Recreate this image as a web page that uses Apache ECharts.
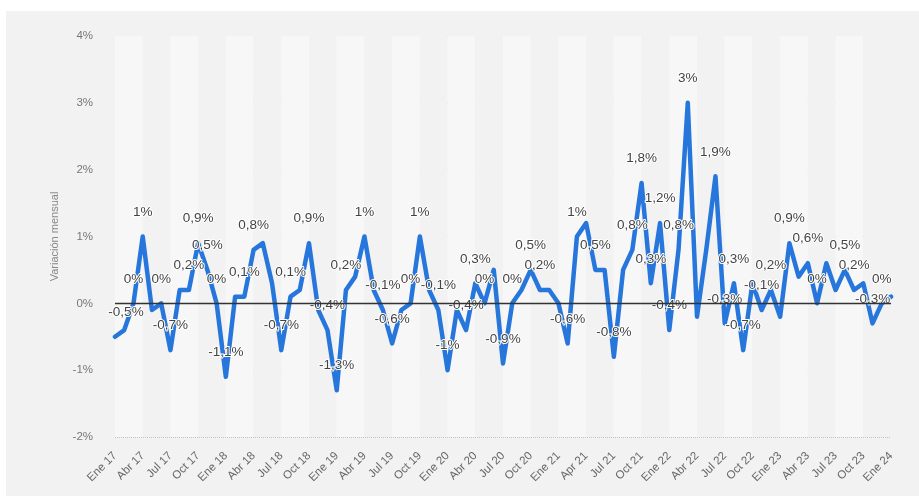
<!DOCTYPE html>
<html>
<head>
<meta charset="utf-8">
<script src="https://cdn.jsdelivr.net/npm/echarts@6/dist/echarts.min.js"></script>
<style>
  html, body { margin: 0; padding: 0; background: #ffffff; }
  #bg { position: absolute; left: 6px; top: 11px; right: 0; bottom: 0; background: #f2f2f2; }
  #chart { position: absolute; left: 0; top: 0; width: 919px; height: 496px; }
</style>
</head>
<body>
<div id="bg"></div>
<div id="chart"></div>
<script>
// Month categories (x axis)
const categories = [
  'Ene 17','Feb 17','Mar 17','Abr 17','May 17','Jun 17','Jul 17','Ago 17','Sep 17','Oct 17','Nov 17','Dic 17',
  'Ene 18','Feb 18','Mar 18','Abr 18','May 18','Jun 18','Jul 18','Ago 18','Sep 18','Oct 18','Nov 18','Dic 18',
  'Ene 19','Feb 19','Mar 19','Abr 19','May 19','Jun 19','Jul 19','Ago 19','Sep 19','Oct 19','Nov 19','Dic 19',
  'Ene 20','Feb 20','Mar 20','Abr 20','May 20','Jun 20','Jul 20','Ago 20','Sep 20','Oct 20','Nov 20','Dic 20',
  'Ene 21','Feb 21','Mar 21','Apr 21','May 21','Jun 21','Jul 21','Ago 21','Sep 21','Oct 21','Nov 21','Dic 21',
  'Ene 22','Feb 22','Mar 22','Abr 22','May 22','Jun 22','Jul 22','Ago 22','Sep 22','Oct 22','Nov 22','Dic 22',
  'Ene 23','Feb 23','Mar 23','Abr 23','May 23','Jun 23','Jul 23','Ago 23','Sep 23','Oct 23','Nov 23','Dic 23',
  'Ene 24'
];

// Monthly variation (%)
const values = [
  -0.5, -0.4, 0.0, 1.0, -0.1, 0.0, -0.7, 0.2, 0.2, 0.9, 0.5, 0.0,
  -1.1, 0.1, 0.1, 0.8, 0.9, 0.3, -0.7, 0.1, 0.2, 0.9, -0.1, -0.4,
  -1.3, 0.2, 0.4, 1.0, 0.2, -0.1, -0.6, -0.1, 0.0, 1.0, 0.2, -0.1,
  -1.0, -0.1, -0.4, 0.3, 0.0, 0.5, -0.9, 0.0, 0.2, 0.5, 0.2, 0.2,
  0.0, -0.6, 1.0, 1.2, 0.5, 0.5, -0.8, 0.5, 0.8, 1.8, 0.3, 1.2,
  -0.4, 0.8, 3.0, -0.2, 0.8, 1.9, -0.3, 0.3, -0.7, 0.3, -0.1, 0.2,
  -0.2, 0.9, 0.4, 0.6, 0.0, 0.6, 0.2, 0.5, 0.2, 0.3, -0.3, 0.0,
  0.1
];

// Months whose value is annotated in the chart
const labelledMonths = [
  'Ene 17','Mar 17','Abr 17','Jun 17','Jul 17','Sep 17','Oct 17','Nov 17','Dic 17',
  'Ene 18','Mar 18','Abr 18','Jul 18','Ago 18','Oct 18','Dic 18',
  'Ene 19','Feb 19','Abr 19','Jun 19','Jul 19','Sep 19','Oct 19','Dic 19',
  'Ene 20','Mar 20','Abr 20','May 20','Jul 20','Ago 20','Oct 20','Nov 20',
  'Feb 21','Mar 21','May 21','Jul 21','Sep 21','Oct 21','Nov 21','Dic 21',
  'Ene 22','Feb 22','Mar 22','Jun 22','Jul 22','Ago 22','Sep 22','Nov 22','Dic 22',
  'Feb 23','Abr 23','May 23','Ago 23','Sep 23','Nov 23','Dic 23'
];

// Y axis ticks
const yMin = -2, yMax = 4, yStep = 1;
const yAxisTitle = 'Variación mensual';

const FONT = "'Liberation Sans', Arial, Helvetica, sans-serif";
const BLUE = '#2676dc';

function fmt(v) {
  let s = (Math.round(v * 10) / 10).toFixed(1);
  if (s.endsWith('.0')) s = s.slice(0, -2);
  if (s === '-0') s = '0';
  return s.replace('.', ',') + '%';
}

const seriesData = values.map((v, i) => ({
  value: v,
  label: { show: labelledMonths.indexOf(categories[i]) !== -1 }
}));

const chart = echarts.init(document.getElementById('chart'), null, { renderer: 'canvas' });
chart.setOption({
  backgroundColor: 'transparent',
  animation: false,
  textStyle: { fontFamily: FONT },
  grid: { left: 115, right: 28, top: 36, bottom: 59, containLabel: false },
  xAxis: {
    type: 'category',
    data: categories,
    boundaryGap: false,
    axisLine: { show: false },
    axisTick: { show: false },
    axisLabel: {
      interval: 2,
      rotate: 45,
      margin: 17,
      color: '#666',
      fontSize: 11.5,
      fontFamily: FONT
    },
    splitLine: { show: false },
    splitArea: {
      show: true,
      interval: 2,
      areaStyle: { color: ['#f7f7f7', '#f2f2f2'] }
    }
  },
  yAxis: {
    type: 'value',
    min: yMin,
    max: yMax,
    interval: yStep,
    name: yAxisTitle,
    nameLocation: 'middle',
    nameGap: 55,
    nameTextStyle: { color: '#888', fontSize: 11, fontFamily: FONT },
    axisLine: { show: false },
    axisTick: { show: false },
    axisLabel: {
      margin: 22,
      color: '#777',
      fontSize: 11.5,
      fontFamily: FONT,
      formatter: v => v + '%'
    },
    splitLine: { show: true, lineStyle: { color: '#c4c4c4', type: 'dotted', width: 1 } }
  },
  series: [{
    type: 'line',
    data: seriesData,
    showSymbol: true,
    symbol: 'circle',
    symbolSize: 1,
    lineStyle: { color: BLUE, width: 4.5, cap: 'round', join: 'round' },
    itemStyle: { color: BLUE },
    label: {
      position: 'top',
      distance: 17,
      offset: [3, 0],
      color: '#444',
      fontSize: 13.5,
      fontFamily: FONT,
      textBorderColor: '#ffffff',
      textBorderWidth: 2,
      formatter: p => fmt(p.value)
    },
    labelLayout: function (params) {
      if (params.dataIndex === 0) return { dx: 11 };
      return {};
    },
    markLine: {
      silent: true,
      symbol: ['none', 'none'],
      label: { show: false },
      lineStyle: { color: '#333', width: 1.3, type: 'solid' },
      data: [{ yAxis: 0 }]
    },
    z: 3
  }]
});
</script>
</body>
</html>
